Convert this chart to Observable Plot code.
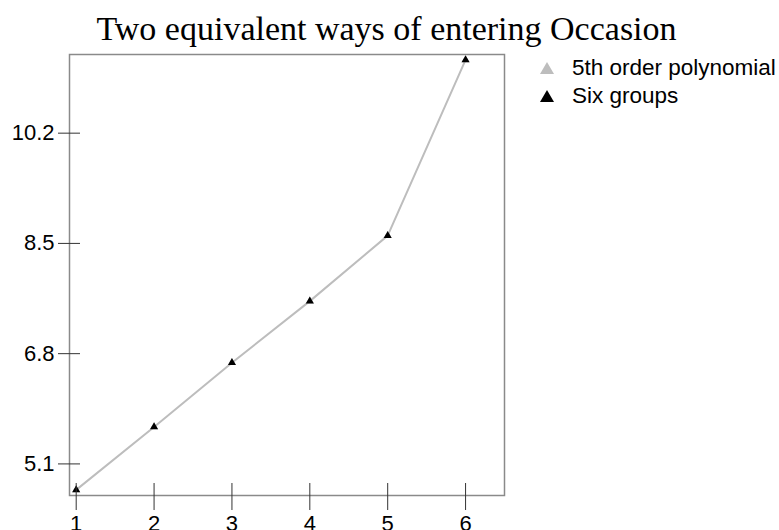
<!DOCTYPE html>
<html>
<head>
<meta charset="utf-8">
<script src="https://cdn.jsdelivr.net/npm/d3@7"></script>
<script src="https://cdn.jsdelivr.net/npm/@observablehq/plot@0.6"></script>
<style>
  body { margin: 0; background: #fff; }
  #wrap { position: relative; width: 779px; height: 530px; overflow: hidden; background: #fff; }
  #title { position: absolute; left: 0; width: 773px; top: 9px; text-align: center;
           font-family: "Liberation Serif", "Times New Roman", serif; font-size: 34px; color: #000; line-height: 40px; }
  #legend { position: absolute; left: 540px; top: 54px; font-family: "Liberation Sans", Arial, sans-serif; font-size: 22.5px; color: #000; }
  .item { display: flex; align-items: center; height: 28px; white-space: nowrap; }
  .item svg { margin-right: 18px; }
  #chart { position: absolute; left: 0; top: 0; }
</style>
</head>
<body>
<div id="wrap">
  <div id="chart"></div>
  <div id="title">Two equivalent ways of entering Occasion</div>
  <div id="legend"></div>
</div>
<script>
const occasion = [1, 2, 3, 4, 5, 6];
const polynomial = [4.70, 5.67, 6.66, 7.61, 8.62, 11.33];
const sixGroups = [4.70, 5.67, 6.66, 7.61, 8.62, 11.33];
const xTicks = [1, 2, 3, 4, 5, 6];
const yTicks = [5.1, 6.8, 8.5, 10.2];
const seriesNames = ["5th order polynomial", "Six groups"];
const seriesColors = ["#bdbdbd", "#000000"];

const polyData = occasion.map((x, i) => ({x, y: polynomial[i]}));
const groupData = occasion.map((x, i) => ({x, y: sixGroups[i]}));

const chart = Plot.plot({
  width: 779,
  height: 530,
  marginLeft: 69,
  marginRight: 275,
  marginTop: 54,
  marginBottom: 35,
  style: {fontFamily: "'Liberation Sans', Arial, sans-serif", fontSize: "22px", color: "#000", background: "transparent"},
  x: {domain: [0.914, 6.50]},
  y: {domain: [4.613, 11.413]},
  marks: [
    Plot.line(polyData, {x: "x", y: "y", stroke: seriesColors[0], strokeWidth: 2}),
    Plot.dot(polyData, {x: "x", y: "y", symbol: "triangle", r: 3, fill: seriesColors[0]}),
    Plot.dot(groupData, {x: "x", y: "y", symbol: "triangle", r: 3, fill: seriesColors[1]}),
    Plot.frame({stroke: "#8a8a8a", strokeWidth: 1.5}),
    Plot.axisX({ticks: xTicks, tickFormat: d3.format("d"), tickSize: 27, dy: -12, tickPadding: 5, label: null, stroke: "#333", strokeOpacity: 1, fontSize: 22}),
    Plot.axisY({ticks: yTicks, tickFormat: d3.format(".1f"), tickSize: 22, dx: 11, tickPadding: 4, label: null, stroke: "#333", strokeOpacity: 1, fontSize: 22})
  ]
});
document.getElementById("chart").appendChild(chart);

const legend = document.getElementById("legend");
seriesNames.forEach((name, i) => {
  const item = document.createElement("div");
  item.className = "item";
  item.innerHTML = `<svg width="14" height="13"><polygon points="7,0 14,12 0,12" fill="${seriesColors[i]}"/></svg><span>${name}</span>`;
  legend.appendChild(item);
});
</script>
</body>
</html>
